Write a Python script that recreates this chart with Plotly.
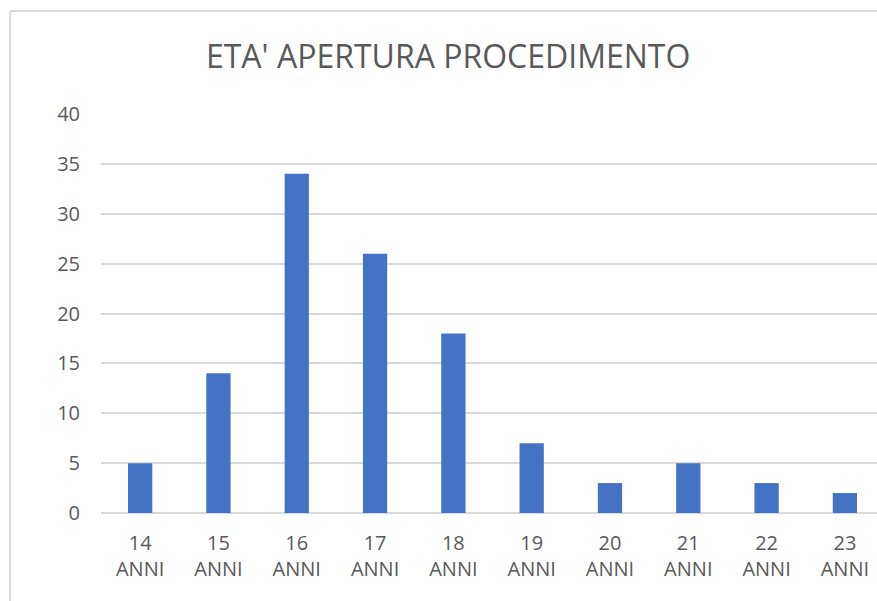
import plotly.graph_objects as go

categories = ["14<br>ANNI", "15<br>ANNI", "16<br>ANNI", "17<br>ANNI", "18<br>ANNI",
              "19<br>ANNI", "20<br>ANNI", "21<br>ANNI", "22<br>ANNI", "23<br>ANNI"]
counts = [5, 14, 34, 26, 18, 7, 3, 5, 3, 2]
y_ticks = [0, 5, 10, 15, 20, 25, 30, 35, 40]

BAR = "#4472C4"
TEXT = "#595959"
GRID = "#D9D9D9"

fig = go.Figure(
    go.Bar(
        x=list(range(len(categories))),
        y=counts,
        width=0.31,
        marker=dict(color=BAR, line=dict(width=0)),
    )
)

fig.update_layout(
    width=877,
    height=601,
    margin=dict(l=101, r=0, t=114, b=88),
    paper_bgcolor="white",
    plot_bgcolor="white",
    showlegend=False,
    font=dict(family="Open Sans, sans-serif", color=TEXT, size=20),
    title=dict(
        text="ETA' APERTURA PROCEDIMENTO",
        x=0.511, xanchor="center",
        y=1 - 57 / 601, yanchor="middle",
        font=dict(size=32, color=TEXT),
    ),
    # chart-area border (left and top edges visible)
    shapes=[
        dict(type="line", xref="paper", yref="paper",
             x0=-0.117, x1=-0.117, y0=-0.3, y1=1.258,
             line=dict(color=GRID, width=2)),
        dict(type="line", xref="paper", yref="paper",
             x0=-0.117, x1=1.05, y0=1.258, y1=1.258,
             line=dict(color=GRID, width=2)),
    ],
)

fig.update_xaxes(
    range=[-0.5, 9.41],
    tickmode="array",
    tickvals=list(range(len(categories))),
    ticktext=categories,
    showgrid=False,
    showline=False,
    ticks="",
    ticklabelstandoff=16,
    tickfont=dict(size=20, color=TEXT),
)
fig.update_yaxes(
    range=[0, 40],
    tickvals=y_ticks,
    showgrid=True,
    gridcolor=GRID,
    gridwidth=1.5,
    zeroline=True,
    zerolinecolor=GRID,
    zerolinewidth=1.5,
    ticks="",
    ticklabelstandoff=20,
    tickfont=dict(size=20, color=TEXT),
)

# drop the default body margin so the figure fills the window exactly
fig.write_html(
    "out.html",
    config={"displayModeBar": False},
    post_script="document.body.style.margin='0';document.body.style.overflow='hidden';",
)
